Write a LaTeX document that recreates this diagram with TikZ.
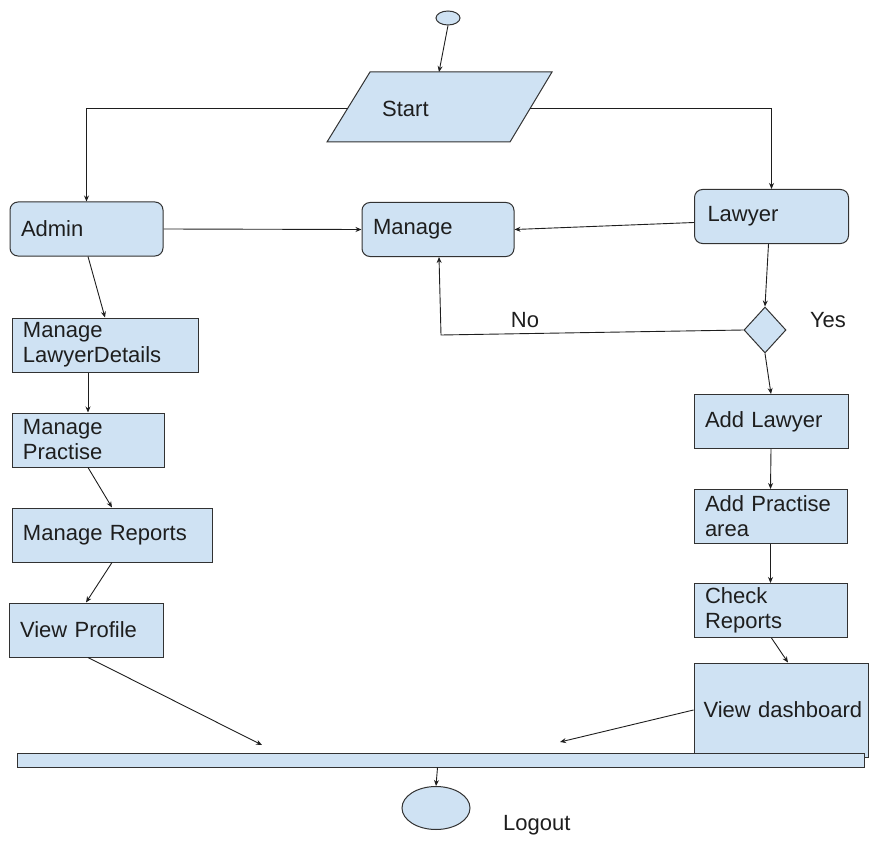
\documentclass[tikz,border=0pt]{standalone}
\usepackage{fontspec}
\setmainfont{Liberation Sans}
\usetikzlibrary{shapes.geometric,arrows.meta}
\definecolor{boxfill}{RGB}{207,226,243}
\definecolor{boxline}{RGB}{50,50,50}
\definecolor{ink}{RGB}{30,30,30}
\tikzset{
  every node/.style={font=\fontsize{22}{25}\selectfont, text=ink},
  box/.style={draw=boxline, fill=boxfill, line width=1pt, rectangle, align=left,
    inner xsep=11pt, inner ysep=2pt, minimum height=54pt},
  rbox/.style={box, rounded corners=8pt},
  conn/.style={draw=ink, line width=0.9pt},
  arr/.style={conn, -{Stealth[length=6pt,width=5pt]}},
  lbl/.style={inner sep=0pt}
}
\begin{document}
\begin{tikzpicture}[x=1pt,y=-1pt]
\useasboundingbox (0,0) rectangle (870,861);
% start dot
\node[ellipse, draw=boxline, fill=boxfill, line width=1pt, minimum width=24pt, minimum height=14pt, inner sep=0pt] (dot) at (448,18) {};
% start parallelogram
\draw[draw=boxline, fill=boxfill, line width=1pt] (370,72) -- (552,72) -- (510,142) -- (327,142) -- cycle;
\node[lbl, anchor=west] (start) at (382,109) {Start};
\coordinate (startT) at (439,72);
\coordinate (startL) at (348,108);
\coordinate (startR) at (530,108);
% top row
\node[rbox, minimum width=153pt, text width=131pt] (admin) at (86.5,229) {Admin};
\node[rbox, minimum width=152pt, text width=130pt] (manage) at (438,229.5) {Manage};
\node[rbox, minimum width=153pt, text width=128pt, inner xsep=13pt] (lawyer) at (771.5,216.5) {Lawyer};
\node[diamond, draw=boxline, fill=boxfill, line width=1pt, minimum width=42pt, minimum height=46pt, inner sep=0pt] (dec) at (765,330) {};
\node[lbl] (no) at (525,320) {No};
\node[lbl] (yes) at (828,320) {Yes};
% left column
\node[box, minimum width=186pt, text width=164pt] (mld) at (105,345) {Manage\\LawyerDetails};
\node[box, minimum width=152pt, text width=130pt] (mp) at (88,440) {Manage\\Practise};
\node[box, minimum width=200pt, text width=178pt] (mr) at (112,535) {Manage Reports};
\node[box, minimum width=154pt, text width=132pt] (vp) at (86,630) {View Profile};
% right column
\node[box, minimum width=154pt, text width=132pt] (al) at (771,421.5) {Add Lawyer};
\node[box, minimum width=153pt, text width=131pt] (ap) at (770.5,516.5) {Add Practise\\area};
\node[box, minimum width=153pt, text width=131pt] (cr) at (770.5,610.5) {Check\\Reports};
\node[box, minimum width=174pt, minimum height=94pt, text width=163pt, inner xsep=5.5pt] (vd) at (781,710) {\hspace*{4pt}\mbox{View dashboard}};
% bar and end
\node[draw=boxline, fill=boxfill, line width=1pt, minimum width=847pt, minimum height=14pt, inner sep=0pt] (bar) at (440.5,760) {};
\node[ellipse, draw=boxline, fill=boxfill, line width=1pt, minimum width=68pt, minimum height=43pt, inner sep=0pt] (logout) at (436,808) {};
\node[lbl, anchor=west] (logoutlbl) at (503,825) {Logout};
\coordinate (tipL) at (262,745);
\coordinate (tipR) at (560,742);
% connectors
\draw[arr] (dot.south) -- (startT);
\draw[arr] (startL) -| (admin.north);
\draw[arr] (startR) -| (lawyer.north);
\draw[arr] (admin.east) -- (manage.west);
\draw[arr] ([yshift=-6pt]lawyer.west) -- (manage.east);
\draw[arr] ([xshift=-3pt]lawyer.south) -- (dec.north);
\draw[arr] (dec.west) -- ([xshift=3pt,yshift=-5pt]manage.south |- dec.west) -- ([xshift=1pt]manage.south);
\draw[arr] (dec.south) -- (al.north);
\draw[arr] (al.south) -- (ap.north);
\draw[arr] (ap.south) -- (cr.north);
\draw[arr] ([xshift=1pt]cr.south) -- ([xshift=7pt]vd.north);
\draw[arr] (vd.west) -- (tipR);
\draw[arr] ([xshift=1.5pt]admin.south) -- (mld.north);
\draw[arr] (mp.north |- mld.south) -- (mp.north);
\draw[arr] (mp.south) -- (mr.north);
\draw[arr] (mr.south) -- (vp.north);
\draw[arr] ([xshift=2pt]vp.south) -- (tipL);
\draw[arr] ([xshift=-3pt]bar.south) -- (logout.north);
\end{tikzpicture}
\end{document}
